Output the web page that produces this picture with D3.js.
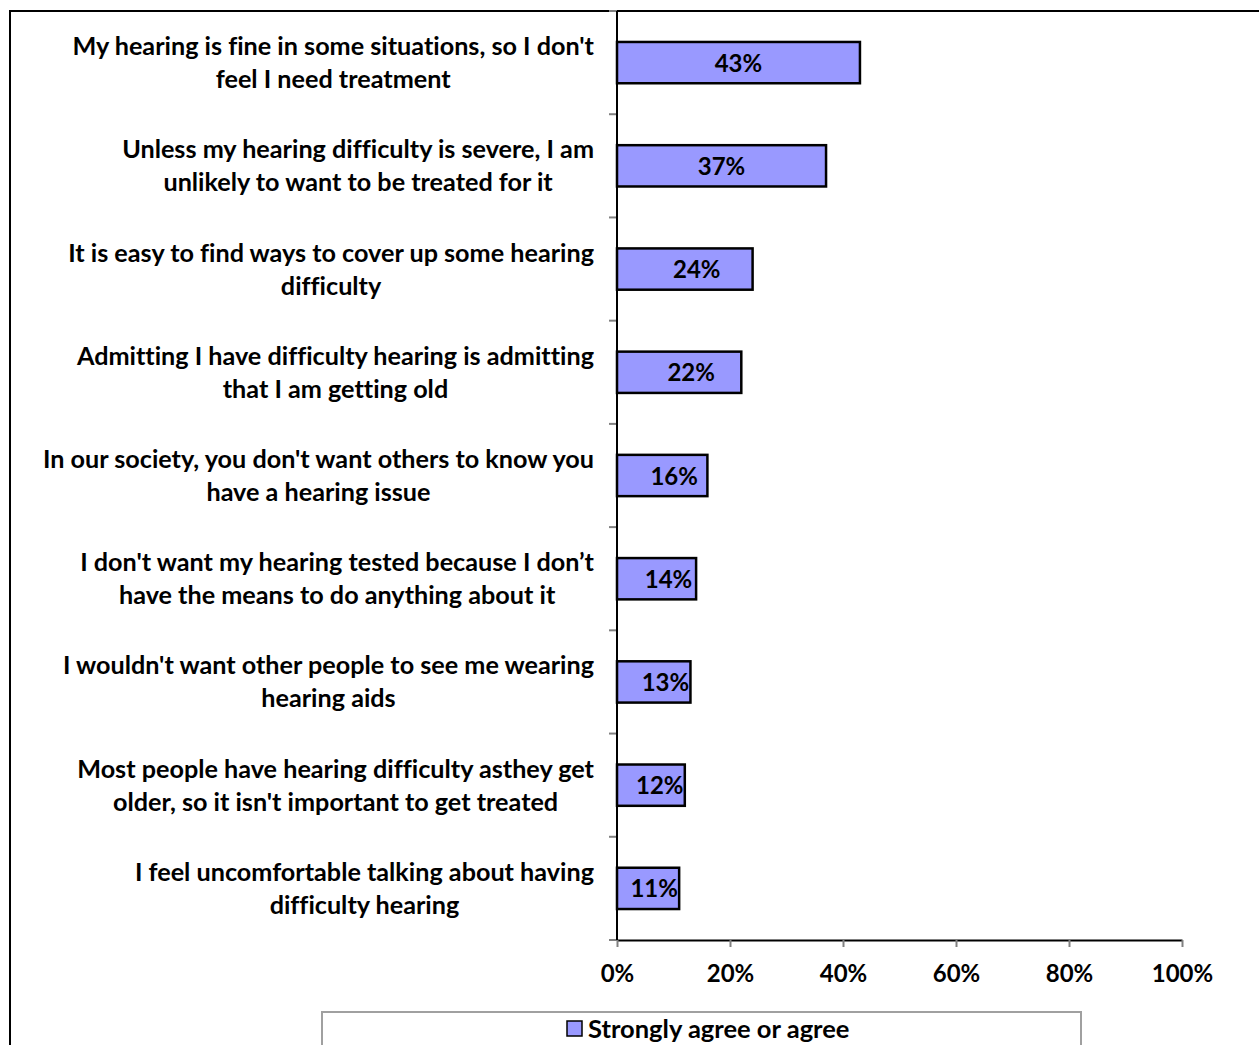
<!DOCTYPE html>
<html>
<head>
<meta charset="utf-8">
<script src="https://cdn.jsdelivr.net/npm/d3@7"></script>
<style>
  html, body { margin: 0; padding: 0; background: #fff; }
  svg text { font-family: Lato, "Open Sans", sans-serif; font-weight: 700; fill: #000;
             font-variant-ligatures: none; font-feature-settings: "liga" 0; }
</style>
</head>
<body>
<svg id="chart" width="1259" height="1045"></svg>
<script>
// Survey statements (each wrapped onto two lines)
const statements = [
  ["My hearing is fine in some situations, so I don't", "feel I need treatment"],
  ["Unless my hearing difficulty is severe, I am", "unlikely to want to be treated for it"],
  ["It is easy to find ways to cover up some hearing", "difficulty"],
  ["Admitting I have difficulty hearing is admitting", "that I am getting old"],
  ["In our society, you don't want others to know you", "have a hearing issue"],
  ["I don't want my hearing tested because I don\u2019t", "have the means to do anything about it"],
  ["I wouldn't want other people to see me wearing", "hearing aids"],
  ["Most people have hearing difficulty asthey get", "older, so it isn't important to get treated"],
  ["I feel uncomfortable talking about having", "difficulty hearing"]
];
// Share answering "Strongly agree or agree" (%)
const agreeValues = [43, 37, 24, 22, 16, 14, 13, 12, 11];
const seriesName = "Strongly agree or agree";
const xTicks = [0, 20, 40, 60, 80, 100];

const FS_NUM = 24;       // value and tick labels
const FS_CAT = 25.2;     // category labels
const FS_LEG = 25.5;     // legend entry
const BAR_FILL = "#9999FF";

const svg = d3.select("#chart");

// Outer chart frame
svg.append("rect")
  .attr("x", 10).attr("y", 11)
  .attr("width", 1280).attr("height", 1100)
  .attr("fill", "none").attr("stroke", "#000").attr("stroke-width", 2);

const plot = { left: 617, right: 1182, top: 11, bottom: 940 };

const x = d3.scaleLinear().domain([0, 100]).range([plot.left, plot.right]);
const idx = d3.range(statements.length);
const y = d3.scaleBand().domain(idx).range([plot.top, plot.bottom])
  .paddingInner(0.6).paddingOuter(0.3);
const step = y.step();

// Category tick marks at band boundaries
const boundaries = d3.range(statements.length + 1).map(i => plot.top + i * step);
svg.append("g").selectAll("line").data(boundaries).join("line")
  .attr("x1", plot.left - 8).attr("x2", plot.left)
  .attr("y1", d => d).attr("y2", d => d)
  .attr("stroke", "#808080").attr("stroke-width", 2);

// Bars
svg.append("g").selectAll("rect").data(agreeValues).join("rect")
  .attr("x", x(0))
  .attr("y", (d, i) => y(i))
  .attr("width", d => x(d) - x(0))
  .attr("height", y.bandwidth())
  .attr("fill", BAR_FILL)
  .attr("stroke", "#000").attr("stroke-width", 2.5);

// Value labels, nudged toward the bar end on shorter bars
svg.append("g").selectAll("text").data(agreeValues).join("text")
  .attr("x", d => {
    const w = x(d) - x(0);
    const c = d >= 30 ? w / 2 : Math.min(w / 2 + 12, w - 25);
    return x(0) + c;
  })
  .attr("y", (d, i) => y(i) + y.bandwidth() / 2 + 9)
  .attr("text-anchor", "middle")
  .attr("font-size", FS_NUM)
  .text(d => d + "%");

// Y axis line
svg.append("line")
  .attr("x1", plot.left).attr("x2", plot.left)
  .attr("y1", plot.top).attr("y2", plot.bottom)
  .attr("stroke", "#000").attr("stroke-width", 2);

// X axis
const xAxis = d3.axisBottom(x).tickValues(xTicks).tickSize(7).tickSizeOuter(0)
  .tickFormat(d => d + "%");
const gx = svg.append("g").attr("transform", `translate(0,${plot.bottom})`).call(xAxis);
gx.attr("font-family", null).attr("font-size", null);
gx.select(".domain").attr("stroke", "#000").attr("stroke-width", 2);
gx.selectAll(".tick line").attr("stroke", "#808080").attr("stroke-width", 2);
gx.selectAll(".tick text")
  .attr("y", 42).attr("dy", null)
  .attr("font-size", FS_NUM);

// Category labels: two centred lines, block right-aligned to the axis
const labelRight = 594;
const catG = svg.append("g");
statements.forEach((lines, i) => {
  const cy = y(i) + y.bandwidth() / 2;
  const t = catG.append("text")
    .attr("text-anchor", "middle")
    .attr("font-size", FS_CAT);
  const spans = lines.map((ln, j) => t.append("tspan")
    .attr("y", cy + (j === 0 ? -7.5 : 25.5))
    .text(ln));
  const maxW = d3.max(spans, s => s.node().getComputedTextLength());
  spans.forEach(s => s.attr("x", labelRight - maxW / 2));
});

// Legend
const lg = svg.append("g");
lg.append("rect")
  .attr("x", 322).attr("y", 1012).attr("width", 759).attr("height", 60)
  .attr("fill", "#fff").attr("stroke", "#a0a0a0").attr("stroke-width", 2);
lg.append("rect")
  .attr("x", 567).attr("y", 1021).attr("width", 15).attr("height", 15)
  .attr("fill", BAR_FILL).attr("stroke", "#000").attr("stroke-width", 1.5);
lg.append("text")
  .attr("x", 588).attr("y", 1037.5)
  .attr("font-size", FS_LEG)
  .text(seriesName);
</script>
</body>
</html>
